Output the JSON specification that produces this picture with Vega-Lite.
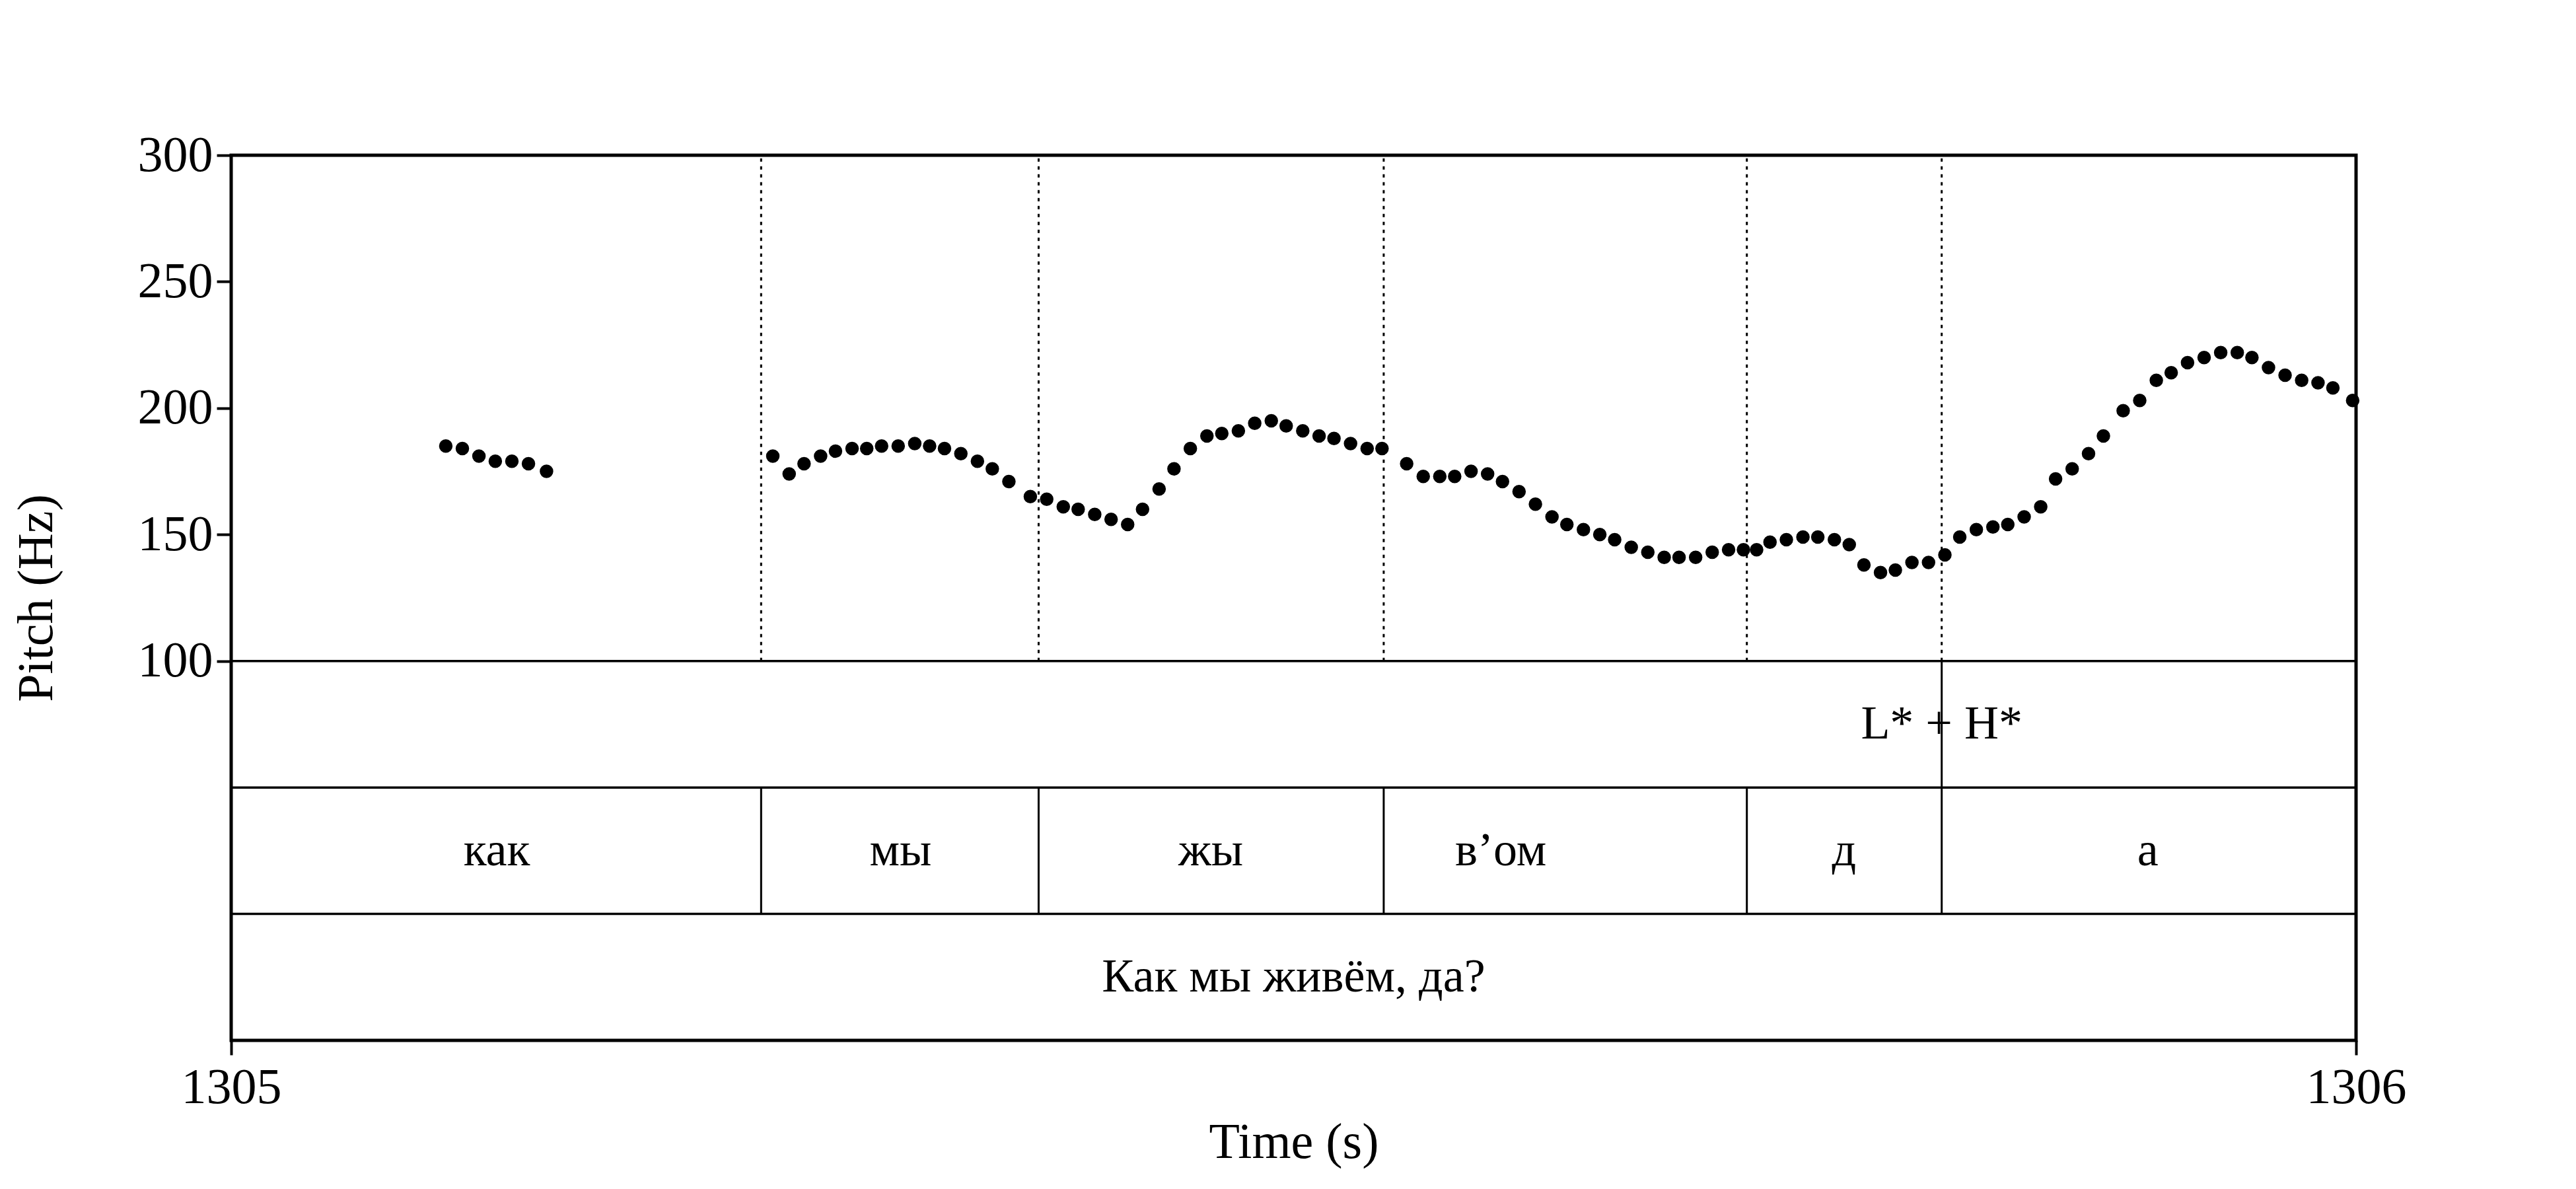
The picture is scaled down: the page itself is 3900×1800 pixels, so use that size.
{
  "$schema": "https://vega.github.io/schema/vega-lite/v6.json",
  "width": 3217,
  "height": 1340,
  "autosize": "none",
  "padding": {"left": 350, "top": 235, "right": 333, "bottom": 225},
  "background": "white",
  "config": {
    "view": {"stroke": "black", "strokeWidth": 5},
    "font": "Liberation Serif",
    "axis": {"labelFont": "Liberation Serif", "titleFont": "Liberation Serif", "titleFontWeight": "normal", "labelColor": "black", "titleColor": "black", "tickColor": "black", "domain": false, "grid": false}
  },
  "datasets": {
    "pitch": [
      {"t": 1305.101, "hz": 185}, {"t": 1305.1088, "hz": 184}, {"t": 1305.1166, "hz": 181}, {"t": 1305.1243, "hz": 179},
      {"t": 1305.1321, "hz": 179}, {"t": 1305.1399, "hz": 178}, {"t": 1305.1484, "hz": 175},
      {"t": 1305.2549, "hz": 181}, {"t": 1305.2626, "hz": 174}, {"t": 1305.2696, "hz": 178}, {"t": 1305.2774, "hz": 181},
      {"t": 1305.2844, "hz": 183}, {"t": 1305.2922, "hz": 184}, {"t": 1305.2991, "hz": 184}, {"t": 1305.3061, "hz": 185},
      {"t": 1305.3139, "hz": 185}, {"t": 1305.3217, "hz": 186}, {"t": 1305.3287, "hz": 185}, {"t": 1305.3357, "hz": 184},
      {"t": 1305.3434, "hz": 182}, {"t": 1305.3512, "hz": 179}, {"t": 1305.3582, "hz": 176}, {"t": 1305.366, "hz": 171},
      {"t": 1305.3761, "hz": 165}, {"t": 1305.3838, "hz": 164}, {"t": 1305.3916, "hz": 161}, {"t": 1305.3986, "hz": 160},
      {"t": 1305.4064, "hz": 158}, {"t": 1305.4141, "hz": 156}, {"t": 1305.4219, "hz": 154}, {"t": 1305.4289, "hz": 160},
      {"t": 1305.4367, "hz": 168}, {"t": 1305.4437, "hz": 176}, {"t": 1305.4514, "hz": 184}, {"t": 1305.4592, "hz": 189},
      {"t": 1305.4662, "hz": 190}, {"t": 1305.474, "hz": 191}, {"t": 1305.4817, "hz": 194}, {"t": 1305.4895, "hz": 195},
      {"t": 1305.4965, "hz": 193}, {"t": 1305.5043, "hz": 191}, {"t": 1305.512, "hz": 189}, {"t": 1305.519, "hz": 188},
      {"t": 1305.5268, "hz": 186}, {"t": 1305.5346, "hz": 184}, {"t": 1305.5416, "hz": 184}, {"t": 1305.5532, "hz": 178},
      {"t": 1305.561, "hz": 173}, {"t": 1305.5688, "hz": 173}, {"t": 1305.5758, "hz": 173}, {"t": 1305.5835, "hz": 175},
      {"t": 1305.5913, "hz": 174}, {"t": 1305.5983, "hz": 171}, {"t": 1305.6061, "hz": 167}, {"t": 1305.6138, "hz": 162},
      {"t": 1305.6216, "hz": 157}, {"t": 1305.6286, "hz": 154}, {"t": 1305.6364, "hz": 152}, {"t": 1305.6441, "hz": 150},
      {"t": 1305.6511, "hz": 148}, {"t": 1305.6589, "hz": 145}, {"t": 1305.6667, "hz": 143}, {"t": 1305.6744, "hz": 141},
      {"t": 1305.6814, "hz": 141}, {"t": 1305.6892, "hz": 141}, {"t": 1305.697, "hz": 143}, {"t": 1305.7047, "hz": 144},
      {"t": 1305.7117, "hz": 144}, {"t": 1305.7179, "hz": 144}, {"t": 1305.7242, "hz": 147}, {"t": 1305.7319, "hz": 148},
      {"t": 1305.7397, "hz": 149}, {"t": 1305.7467, "hz": 149}, {"t": 1305.7545, "hz": 148}, {"t": 1305.7615, "hz": 146},
      {"t": 1305.7684, "hz": 138}, {"t": 1305.7762, "hz": 135}, {"t": 1305.7832, "hz": 136}, {"t": 1305.791, "hz": 139},
      {"t": 1305.7988, "hz": 139}, {"t": 1305.8065, "hz": 142}, {"t": 1305.8135, "hz": 149}, {"t": 1305.8213, "hz": 152},
      {"t": 1305.8291, "hz": 153}, {"t": 1305.8361, "hz": 154}, {"t": 1305.8438, "hz": 157}, {"t": 1305.8516, "hz": 161},
      {"t": 1305.8586, "hz": 172}, {"t": 1305.8664, "hz": 176}, {"t": 1305.8741, "hz": 182}, {"t": 1305.8811, "hz": 189},
      {"t": 1305.8904, "hz": 199}, {"t": 1305.8982, "hz": 203}, {"t": 1305.906, "hz": 211}, {"t": 1305.913, "hz": 214},
      {"t": 1305.9207, "hz": 218}, {"t": 1305.9285, "hz": 220}, {"t": 1305.9363, "hz": 222}, {"t": 1305.9441, "hz": 222},
      {"t": 1305.951, "hz": 220}, {"t": 1305.9588, "hz": 216}, {"t": 1305.9666, "hz": 213}, {"t": 1305.9744, "hz": 211},
      {"t": 1305.9821, "hz": 210}, {"t": 1305.9891, "hz": 208}, {"t": 1305.9984, "hz": 203}
    ],
    "wordBounds": [{"t": 1305.2494}, {"t": 1305.380}, {"t": 1305.5424}, {"t": 1305.7133}, {"t": 1305.805}],
    "toneBounds": [{"t": 1305.805}],
    "tierLines": [{"y": 100}, {"y": 50}, {"y": 0}],
    "labels": [
      {"t": 1305.805, "y": 75, "text": "L* + H*"},
      {"t": 1305.125, "y": 25, "text": "как"},
      {"t": 1305.315, "y": 25, "text": "мы"},
      {"t": 1305.461, "y": 25, "text": "жы"},
      {"t": 1305.5975, "y": 25, "text": "в’ом"},
      {"t": 1305.759, "y": 25, "text": "д"},
      {"t": 1305.902, "y": 25, "text": "а"},
      {"t": 1305.5, "y": -25, "text": "Как мы живём, да?"}
    ]
  },
  "layer": [
    {
      "data": {"name": "tierLines"},
      "mark": {"type": "rule", "color": "black", "strokeWidth": 3.5},
      "encoding": {"y": {"field": "y", "type": "quantitative", "scale": {"domain": [-50, 300], "nice": false, "zero": false}}}
    },
    {
      "data": {"name": "wordBounds"},
      "transform": [{"calculate": "100", "as": "y1"}, {"calculate": "300", "as": "y2"}],
      "mark": {"type": "rule", "color": "black", "strokeWidth": 3, "strokeDash": [5, 7]},
      "encoding": {
        "x": {"field": "t", "type": "quantitative"},
        "y": {"field": "y1", "type": "quantitative"},
        "y2": {"field": "y2"}
      }
    },
    {
      "data": {"name": "wordBounds"},
      "transform": [{"calculate": "0", "as": "y1"}, {"calculate": "50", "as": "y2"}],
      "mark": {"type": "rule", "color": "black", "strokeWidth": 3},
      "encoding": {
        "x": {"field": "t", "type": "quantitative"},
        "y": {"field": "y1", "type": "quantitative"},
        "y2": {"field": "y2"}
      }
    },
    {
      "data": {"name": "toneBounds"},
      "transform": [{"calculate": "50", "as": "y1"}, {"calculate": "100", "as": "y2"}],
      "mark": {"type": "rule", "color": "black", "strokeWidth": 3},
      "encoding": {
        "x": {"field": "t", "type": "quantitative"},
        "y": {"field": "y1", "type": "quantitative"},
        "y2": {"field": "y2"}
      }
    },
    {
      "data": {"name": "labels"},
      "mark": {"type": "text", "font": "Liberation Serif", "fontSize": 72, "color": "black", "baseline": "middle"},
      "encoding": {
        "x": {"field": "t", "type": "quantitative"},
        "y": {"field": "y", "type": "quantitative"},
        "text": {"field": "text"}
      }
    },
    {
      "data": {"name": "pitch"},
      "mark": {"type": "circle", "color": "black", "opacity": 1, "size": 420},
      "encoding": {
        "x": {
          "field": "t", "type": "quantitative",
          "scale": {"domain": [1305, 1306], "nice": false, "zero": false},
          "axis": {"values": [1305, 1306], "format": "d", "title": "Time (s)", "labelFontSize": 76, "titleFontSize": 76, "tickSize": 22, "tickWidth": 4, "labelPadding": 12, "titlePadding": 8, "labelFlush": false}
        },
        "y": {
          "field": "hz", "type": "quantitative",
          "scale": {"domain": [-50, 300], "nice": false, "zero": false},
          "axis": {"values": [100, 150, 200, 250, 300], "title": "Pitch (Hz)", "labelFontSize": 76, "titleFontSize": 76, "tickSize": 22, "tickWidth": 4, "labelPadding": 6, "titleY": 670, "titleX": -295, "titleAlign": "center", "titleBaseline": "middle"}
        }
      }
    }
  ]
}
